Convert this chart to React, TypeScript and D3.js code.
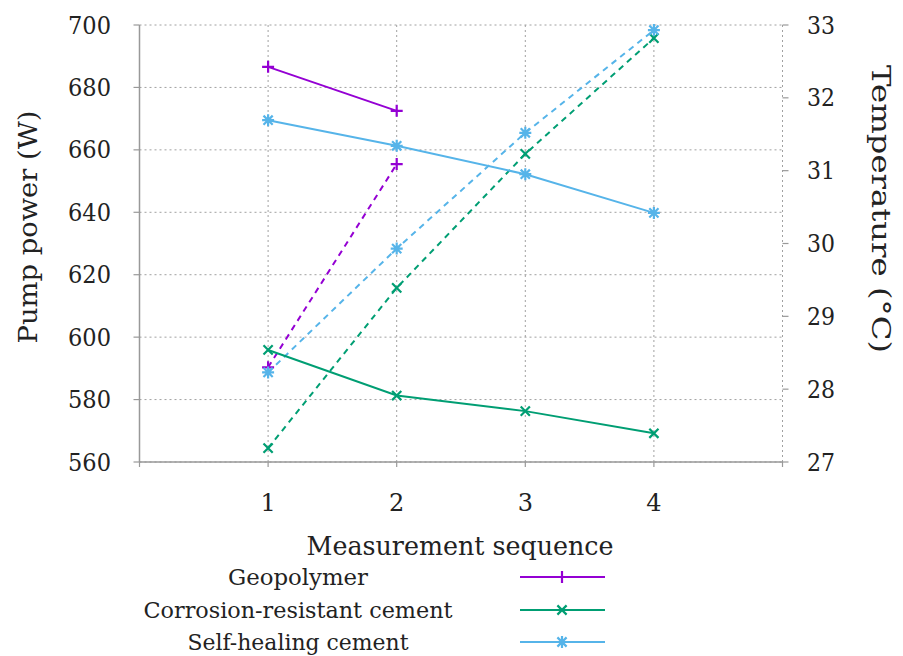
import React from "react";
import * as d3 from "d3";

// Measurement sequence (x) and series values
const sequence = [1, 2, 3, 4];
const seriesNames = ["Geopolymer", "Corrosion-resistant cement", "Self-healing cement"];
const pumpGeopolymer = [686.6, 672.5];
const pumpCorrosion = [595.9, 581.3, 576.3, 569.2];
const pumpSelfHealing = [669.5, 661.3, 652.2, 639.8];
const tempGeopolymer = [28.3, 31.09];
const tempCorrosion = [27.19, 29.39, 31.23, 32.82];
const tempSelfHealing = [28.23, 29.93, 31.52, 32.93];
const powerTicks = [560, 580, 600, 620, 640, 660, 680, 700];
const tempTicks = [27, 28, 29, 30, 31, 32, 33];
const xTicks = [1, 2, 3, 4];

const colors = ["#9400d3", "#009e73", "#56b4e9"];
const markers = ["plus", "cross", "star"];

const W = 903;
const H = 656;
const left = 139.5;
const right = 782.5;
const top = 25;
const bottom = 462;
const FONT = '"DejaVu Serif", "Liberation Serif", serif';
const textStyle = { fontFamily: FONT, fill: "#222" };

function Marker({ x, y, type, color }: { x: number; y: number; type: string; color: string }) {
  const s = 6;
  const d = 4.6;
  const plus = `M${x - s},${y}H${x + s}M${x},${y - s}V${y + s}`;
  const cross = `M${x - d},${y - d}L${x + d},${y + d}M${x - d},${y + d}L${x + d},${y - d}`;
  const path = type === "plus" ? plus : type === "cross" ? cross : plus + cross;
  return <path d={path} stroke={color} strokeWidth={2.2} fill="none" />;
}

export default function App() {
  const x = d3.scaleLinear().domain([0, 5]).range([left, right]);
  const yP = d3.scaleLinear().domain([560, 700]).range([bottom, top]);
  const yT = d3.scaleLinear().domain([27, 33]).range([bottom, top]);

  const powerSeries = [pumpGeopolymer, pumpCorrosion, pumpSelfHealing];
  const tempSeries = [tempGeopolymer, tempCorrosion, tempSelfHealing];

  const lineP = d3
    .line<number>()
    .x((_, i) => x(sequence[i]))
    .y((v) => yP(v));
  const lineT = d3
    .line<number>()
    .x((_, i) => x(sequence[i]))
    .y((v) => yT(v));

  const gridColor = "#a0a0a0";
  const axisColor = "#999";

  const legendRows = [
    { line: 577, base: 585 },
    { line: 610, base: 618 },
    { line: 642, base: 650 },
  ];
  const legendLens = [140, 309, 221];

  return (
    <svg width={W} height={H} style={{ position: "absolute", left: 0, top: 0, background: "#fff" }}>
      {/* grid */}
      {powerTicks.map((t) => (
        <line key={"gy" + t} x1={left} x2={right} y1={yP(t)} y2={yP(t)} stroke={gridColor} strokeWidth={1} strokeDasharray="2,3" />
      ))}
      {xTicks.map((t) => (
        <line key={"gx" + t} x1={x(t)} x2={x(t)} y1={top} y2={bottom} stroke={gridColor} strokeWidth={1} strokeDasharray="2,3" />
      ))}
      <line x1={right} x2={right} y1={top} y2={bottom} stroke={gridColor} strokeWidth={1} strokeDasharray="2,3" />

      {/* axes */}
      <line x1={left} x2={left} y1={top} y2={bottom} stroke={axisColor} strokeWidth={1.5} />
      <line x1={left} x2={right} y1={bottom} y2={bottom} stroke={axisColor} strokeWidth={1.5} />
      {powerTicks.map((t) => (
        <g key={"lt" + t}>
          <line x1={left - 6} x2={left} y1={yP(t)} y2={yP(t)} stroke={axisColor} strokeWidth={1.2} />
          <text x={111} y={yP(t)} dy="0.36em" textAnchor="end" fontSize={24} style={textStyle} textLength={43} lengthAdjust="spacingAndGlyphs">
            {t}
          </text>
        </g>
      ))}
      {tempTicks.map((t) => (
        <g key={"rt" + t}>
          <line x1={right} x2={right + 6} y1={yT(t)} y2={yT(t)} stroke={axisColor} strokeWidth={1.2} />
          <text x={807} y={yT(t)} dy="0.36em" textAnchor="start" fontSize={24} style={textStyle} textLength={28} lengthAdjust="spacingAndGlyphs">
            {t}
          </text>
        </g>
      ))}
      {[0, ...xTicks, 5].map((t) => (
        <line key={"bt" + t} x1={x(t)} x2={x(t)} y1={bottom} y2={bottom + 5} stroke={axisColor} strokeWidth={1.2} />
      ))}
      {xTicks.map((t) => (
        <text key={"xl" + t} x={x(t)} y={511} textAnchor="middle" fontSize={24} style={textStyle}>
          {t}
        </text>
      ))}

      {/* axis titles */}
      <text
        transform={`translate(37,227) rotate(-90)`}
        textAnchor="middle"
        fontSize={26}
        style={textStyle}
        textLength={233}
        lengthAdjust="spacingAndGlyphs"
      >
        Pump power (W)
      </text>
      <text
        transform={`translate(872,209) rotate(90)`}
        textAnchor="middle"
        fontSize={26}
        style={textStyle}
        textLength={288}
        lengthAdjust="spacingAndGlyphs"
      >
        Temperature (°C)
      </text>
      <text
        x={460}
        y={555}
        textAnchor="middle"
        fontSize={26}
        style={textStyle}
        textLength={307}
        lengthAdjust="spacingAndGlyphs"
      >
        Measurement sequence
      </text>

      {/* temperature series (dashed) */}
      {tempSeries.map((s, k) => (
        <g key={"ts" + k}>
          <path d={lineT(s) || ""} fill="none" stroke={colors[k]} strokeWidth={2} strokeDasharray="6,5" />
          {s.map((v, i) => (
            <Marker key={i} x={x(sequence[i])} y={yT(v)} type={markers[k]} color={colors[k]} />
          ))}
        </g>
      ))}

      {/* pump power series (solid) */}
      {powerSeries.map((s, k) => (
        <g key={"ps" + k}>
          <path d={lineP(s) || ""} fill="none" stroke={colors[k]} strokeWidth={2} />
          {s.map((v, i) => (
            <Marker key={i} x={x(sequence[i])} y={yP(v)} type={markers[k]} color={colors[k]} />
          ))}
        </g>
      ))}

      {/* legend */}
      {seriesNames.map((name, k) => (
        <g key={"lg" + k}>
          <text
            x={298}
            y={legendRows[k].base}
            textAnchor="middle"
            fontSize={22}
            style={textStyle}
            textLength={legendLens[k]}
            lengthAdjust="spacingAndGlyphs"
          >
            {name}
          </text>
          <line x1={520} x2={605} y1={legendRows[k].line} y2={legendRows[k].line} stroke={colors[k]} strokeWidth={2} />
          <Marker x={562} y={legendRows[k].line} type={markers[k]} color={colors[k]} />
        </g>
      ))}
    </svg>
  );
}
